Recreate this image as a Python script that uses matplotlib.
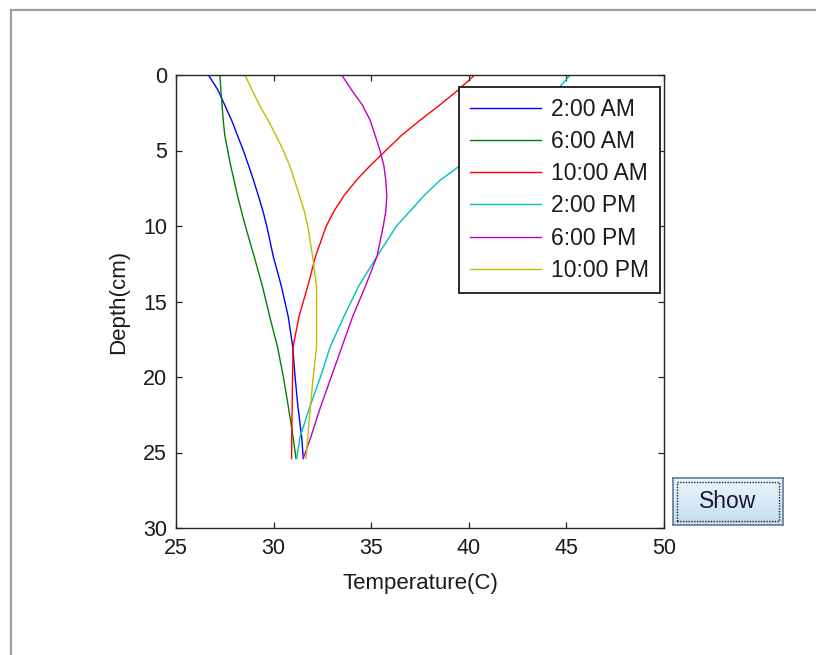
import numpy as np
import matplotlib
matplotlib.use("Agg")
import matplotlib.pyplot as plt
from matplotlib.lines import Line2D
from matplotlib.patches import Rectangle

plt.rcParams['font.family'] = ['Liberation Sans', 'DejaVu Sans']

# ---------------- data ----------------
depth = [0, 1, 2, 3, 4, 5, 6, 7, 8, 9, 10, 12, 14, 16, 18, 20, 22, 24, 25.4]

t_2am = [26.66, 27.15, 27.50, 27.85, 28.15, 28.45, 28.72, 28.98, 29.22, 29.45,
         29.65, 29.98, 30.40, 30.75, 30.98, 31.10, 31.25, 31.44, 31.52]
t_6am = [27.25, 27.30, 27.36, 27.42, 27.50, 27.65, 27.80, 27.98, 28.15, 28.35,
         28.55, 29.00, 29.43, 29.80, 30.20, 30.50, 30.76, 31.00, 31.15]
t_10am = [40.30, 39.45, 38.50, 37.50, 36.55, 35.75, 34.95, 34.22, 33.60, 33.10,
          32.70, 32.15, 31.75, 31.30, 31.00, 30.97, 30.95, 30.93, 30.92]
t_2pm = [45.20, 44.50, 43.40, 42.30, 41.30, 40.35, 39.55, 38.50, 37.70, 37.00,
         36.30, 35.30, 34.35, 33.60, 32.90, 32.40, 31.85, 31.35, 31.18]
t_6pm = [33.49, 34.00, 34.55, 34.95, 35.20, 35.45, 35.65, 35.75, 35.80, 35.75,
         35.62, 35.30, 34.70, 34.05, 33.50, 32.95, 32.40, 31.90, 31.52]
t_10pm = [28.53, 28.90, 29.28, 29.72, 30.12, 30.50, 30.82, 31.08, 31.33, 31.57,
          31.75, 32.00, 32.20, 32.20, 32.20, 32.03, 31.88, 31.75, 31.66]

series_labels = ['2:00 AM', '6:00 AM', '10:00 AM', '2:00 PM', '6:00 PM', '10:00 PM']
series_colors = ['#0000ff', '#008000', '#ff0000', '#00bfbf', '#bf00bf', '#bfbf00']
series_values = [t_2am, t_6am, t_10am, t_2pm, t_6pm, t_10pm]

x_ticks = [25, 30, 35, 40, 45, 50]
y_ticks = [0, 5, 10, 15, 20, 25, 30]
x_label = 'Temperature(C)'
y_label = 'Depth(cm)'
button_text = 'Show'

# ---------------- figure ----------------
W, H = 816, 655
fig = plt.figure(figsize=(W / 100, H / 100), dpi=100, facecolor='white')

# outer window frame
fig.add_artist(Line2D([11 / W, 11 / W], [0, 1 - 10 / H], transform=fig.transFigure,
                      color='#a0a0a0', lw=1.6))
fig.add_artist(Line2D([11 / W, 1], [1 - 10 / H, 1 - 10 / H], transform=fig.transFigure,
                      color='#a0a0a0', lw=1.6))

ax = fig.add_axes([176 / W, 1 - 528 / H, (664 - 176) / W, (528 - 75) / H])
for lab, col, vals in zip(series_labels, series_colors, series_values):
    ax.plot(vals, depth, color=col, lw=1.0, label=lab)

ax.set_xlim(25, 50)
ax.set_ylim(30, 0)
ax.set_xticks(x_ticks)
ax.set_yticks(y_ticks)
for s in ax.spines.values():
    s.set_linewidth(1.0)
    s.set_color('#262626')
ax.tick_params(axis='both', direction='in', length=4.3, width=0.9, color='#262626',
               top=True, right=True, labelsize=15.5, labelcolor='#1a1a1a')
ax.tick_params(axis='x', pad=7)
ax.tick_params(axis='y', pad=6.5)
ax.set_xlabel(x_label, fontsize=16, color='#1a1a1a', labelpad=10)
ax.set_ylabel(y_label, fontsize=16, color='#1a1a1a', labelpad=10)

leg = ax.legend(loc='upper right', bbox_to_anchor=((660 - 176) / 488, 1 - (87 - 75) / 453),
                borderaxespad=0, fontsize=16.5, frameon=True, fancybox=False, framealpha=1,
                handlelength=3.1, handletextpad=0.43, borderpad=0.48, labelspacing=0.40)
leg.get_frame().set_edgecolor('#1a1a1a')
leg.get_frame().set_linewidth(1.3)
leg.set_zorder(10)
for t in leg.get_texts():
    t.set_color('#1a1a1a')

# "Show" button
bx0, by0, bw, bh = 673 / W, 1 - 525 / H, 110 / W, 47 / H
bax = fig.add_axes([bx0, by0, bw, bh])
grad = np.linspace(0, 1, 64).reshape(-1, 1)
bax.imshow(grad, aspect='auto', cmap=matplotlib.colors.LinearSegmentedColormap.from_list(
    'btn', ['#eaf5fc', '#d9ebf7', '#c3ddef']), extent=[0, 1, 0, 1], origin='upper')
bax.set_xlim(0, 1)
bax.set_ylim(0, 1)
bax.set_xticks([])
bax.set_yticks([])
for s in bax.spines.values():
    s.set_color('#5b7c9c')
    s.set_linewidth(1.2)
bax.add_patch(Rectangle((0.04, 0.09), 0.92, 0.82, fill=False, ec='#222222',
                        lw=1.0, ls=(0, (1, 1))))
bax.text(0.5, 0.5, button_text, ha='center', va='center', fontsize=16.5, color='#1a1a2a')

fig.savefig('out.png', dpi=100, facecolor='white')
